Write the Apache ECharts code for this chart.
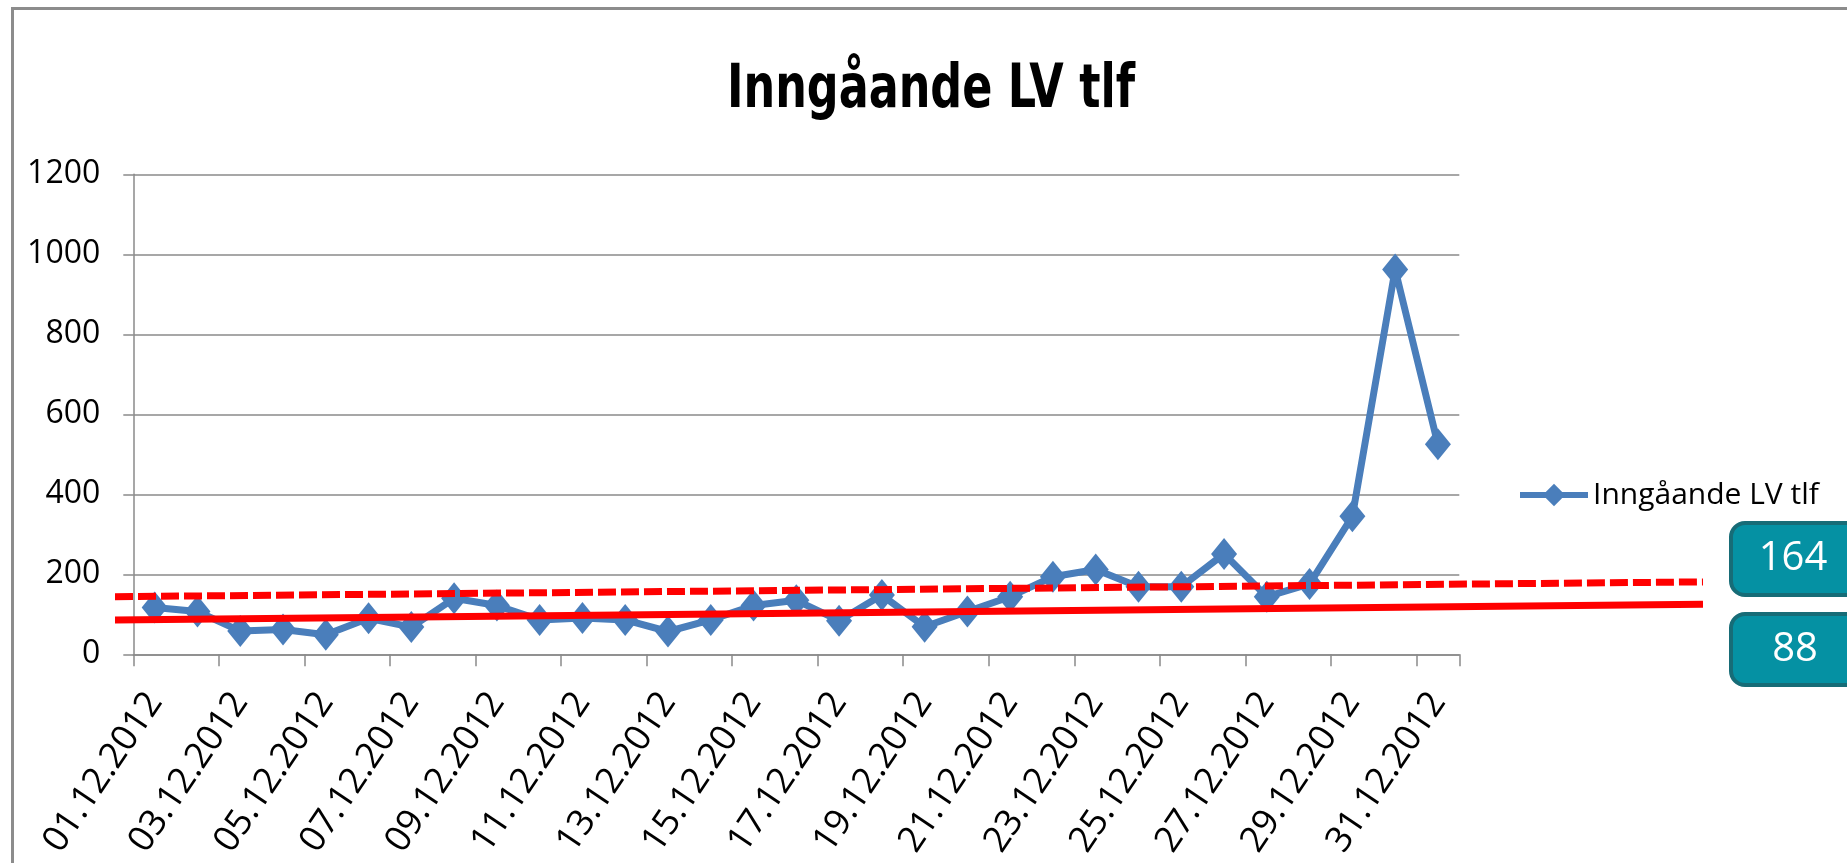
<!DOCTYPE html>
<html>
<head>
<meta charset="utf-8">
<script src="https://cdn.jsdelivr.net/npm/echarts@6/dist/echarts.min.js"></script>
<style>
html,body{margin:0;padding:0;background:#fff;}
#c{width:1847px;height:863px;}
</style>
</head>
<body>
<div id="c"></div>
<script>
const titleText = 'Inngåande LV tlf';
const seriesName = 'Inngåande LV tlf';
const categories = ['01.12.2012','02.12.2012','03.12.2012','04.12.2012','05.12.2012','06.12.2012','07.12.2012','08.12.2012','09.12.2012','10.12.2012','11.12.2012','12.12.2012','13.12.2012','14.12.2012','15.12.2012','16.12.2012','17.12.2012','18.12.2012','19.12.2012','20.12.2012','21.12.2012','22.12.2012','23.12.2012','24.12.2012','25.12.2012','26.12.2012','27.12.2012','28.12.2012','29.12.2012','30.12.2012','31.12.2012'];
const values = [117,107,58,62,49,90,68,140,122,86,91,86,57,86,122,135,84,148,69,107,144,194,212,169,169,251,144,176,345,962,525];
const yMin = 0, yMax = 1200, yStep = 200;
const dashedLineValues = [144, 181];
const solidLineValues = [86, 125];
const boxLabels = ['164', '88'];

const labelFont = '"Open Sans", sans-serif';
const titleFontSize = 61;
const titleFont = 'bold ' + titleFontSize + 'px "DejaVu Sans Condensed", "Open Sans", sans-serif';
const titleTargetWidth = 408;

// measure title natural width to compress horizontally like the reference
const mctx = document.createElement('canvas').getContext('2d');
mctx.font = titleFont;
const titleScaleX = titleTargetWidth / mctx.measureText(titleText).width;

const chart = echarts.init(document.getElementById('c'));
const gridTop = 174.3, gridBottom = 863 - 654.3;

chart.setOption({
  backgroundColor: '#fff',
  animation: false,
  legend: {
    data: [seriesName],
    left: 1512,
    top: 475,
    itemWidth: 68,
    itemHeight: 28,
    lineStyle: { width: 6 },
    textStyle: { fontFamily: labelFont, fontSize: 30, color: '#000' }
  },
  grid: [
    { left: 133.3, right: 1847 - 1459.3, top: gridTop, bottom: gridBottom, containLabel: false },
    { left: 115, right: 1847 - 1703, top: gridTop, bottom: gridBottom, containLabel: false }
  ],
  xAxis: [
    {
      type: 'category',
      gridIndex: 0,
      data: categories,
      boundaryGap: true,
      axisLine: { lineStyle: { color: '#8a8a8a', width: 1.5 } },
      axisTick: { show: true, interval: 1, length: 12, lineStyle: { color: '#8a8a8a', width: 1.5 } },
      axisLabel: { interval: 1, rotate: 56, margin: 42, fontFamily: labelFont, fontSize: 36, color: '#000' },
      splitLine: { show: false }
    },
    { type: 'value', gridIndex: 1, min: 0, max: 1, show: false }
  ],
  yAxis: [
    {
      type: 'value',
      gridIndex: 0,
      min: yMin, max: yMax, interval: yStep,
      axisLine: { show: true, lineStyle: { color: '#8a8a8a', width: 1.5 } },
      axisTick: { show: true, length: 10, lineStyle: { color: '#8a8a8a', width: 1.5 } },
      axisLabel: { margin: 33, fontFamily: labelFont, fontSize: 32, color: '#000', formatter: v => String(v) },
      splitLine: { show: true, lineStyle: { color: '#8a8a8a', width: 1.5 } }
    },
    { type: 'value', gridIndex: 1, min: yMin, max: yMax, show: false, splitLine: { show: false } }
  ],
  series: [
    {
      name: seriesName,
      type: 'line',
      xAxisIndex: 0, yAxisIndex: 0,
      data: values,
      symbol: 'diamond',
      symbolSize: [26, 32],
      showAllSymbol: true,
      lineStyle: { color: '#4a7ebb', width: 7 },
      itemStyle: { color: '#4a7ebb' },
      z: 2
    },
    {
      name: 'dashed',
      type: 'line',
      xAxisIndex: 1, yAxisIndex: 1,
      data: dashedLineValues.map((v, i) => [i, v]),
      symbol: 'none',
      lineStyle: { color: '#ff0000', width: 7, type: [18, 5] },
      z: 5,
      silent: true
    },
    {
      name: 'solid',
      type: 'line',
      xAxisIndex: 1, yAxisIndex: 1,
      data: solidLineValues.map((v, i) => [i, v]),
      symbol: 'none',
      lineStyle: { color: '#ff0000', width: 7 },
      z: 5,
      silent: true
    }
  ],
  graphic: [
    {
      type: 'rect', left: 10, top: 6, z: -10,
      shape: { width: 1900, height: 900 },
      style: { fill: 'none', stroke: '#8c8c8c', lineWidth: 3 }
    },
    {
      type: 'text', x: 727, y: 91, scaleX: titleScaleX,
      style: { text: titleText, fill: '#000', font: titleFont, textAlign: 'left', textVerticalAlign: 'middle' }
    },
    {
      type: 'group', left: 1729, top: 521,
      children: [
        { type: 'rect', shape: { x: 0, y: 0, width: 140, height: 72, r: 14 },
          style: { fill: '#0591a3', stroke: '#176c77', lineWidth: 4 } },
        { type: 'text', x: 62, y: 36,
          style: { text: boxLabels[0], fill: '#fff', font: '40px "Open Sans", sans-serif', textAlign: 'center', textVerticalAlign: 'middle' } }
      ]
    },
    {
      type: 'group', left: 1729, top: 612,
      children: [
        { type: 'rect', shape: { x: 0, y: 0, width: 140, height: 71, r: 14 },
          style: { fill: '#0591a3', stroke: '#176c77', lineWidth: 4 } },
        { type: 'text', x: 64, y: 36,
          style: { text: boxLabels[1], fill: '#fff', font: '40px "Open Sans", sans-serif', textAlign: 'center', textVerticalAlign: 'middle' } }
      ]
    }
  ]
});
</script>
</body>
</html>
